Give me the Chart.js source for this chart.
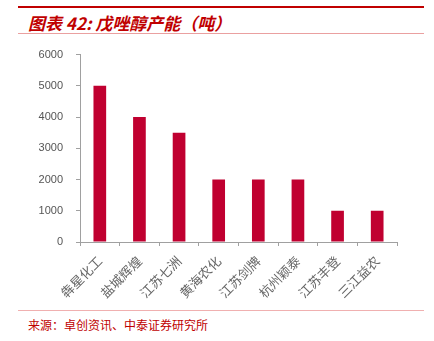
<!DOCTYPE html>
<html>
<head>
<meta charset="utf-8">
<script src="https://cdn.jsdelivr.net/npm/chart.js@4"></script>
<style>
  body { margin: 0; background: #fff; width: 434px; height: 341px; position: relative; overflow: hidden; }
  .topline { position: absolute; left: 18px; top: 6px; width: 406px; height: 2px; background: #c00000; }
  .title { position: absolute; left: 28px; top: 10px; font: italic bold 17px "Noto Sans CJK SC", sans-serif; color: #c00000; }
  .subline { position: absolute; left: 18px; top: 33px; width: 406px; height: 1px; background: #eaa0a0; }
  .botline { position: absolute; left: 18px; top: 310px; width: 406px; height: 1px; background: #f0b0b0; }
  .source { position: absolute; left: 28px; top: 316px; font: 12px "Noto Sans CJK SC", sans-serif; color: #c00000; }
  #wrap { position: absolute; left: 0; top: 35px; width: 434px; height: 275px; }
</style>
</head>
<body>
<div class="topline"></div>
<div class="title">图表 42: 戊唑醇产能（吨）</div>
<div class="subline"></div>
<div id="wrap"><canvas id="myChart"></canvas></div>
<div class="botline"></div>
<div class="source">来源：卓创资讯、中泰证券研究所</div>
<script>
const companies = ['犇星化工', '盐城辉煌', '江苏七洲', '黄海农化', '江苏剑牌', '杭州颖泰', '江苏丰登', '三江益农']
const capacity = [5000, 4000, 3500, 2000, 2000, 2000, 1000, 1000]
const yTicks = [0, 1000, 2000, 3000, 4000, 5000, 6000]

const ctx = document.getElementById('myChart')

new Chart(ctx, {
  type: 'bar',
  data: {
    labels: companies,
    datasets: [{
      data: capacity,
      backgroundColor: '#c00030',
      barPercentage: 0.64,
      categoryPercentage: 0.5
    }]
  },
  options: {
    responsive: true,
    maintainAspectRatio: false,
    animation: false,
    layout: { padding: { top: 9, right: 37, left: 0, bottom: 0 } },
    plugins: { legend: { display: false }, tooltip: { enabled: false } },
    scales: {
      x: {
        grid: { display: true, drawOnChartArea: false, drawTicks: true, tickLength: 4, color: '#a0a0a0', offset: true },
        border: { display: true, color: '#a0a0a0', width: 1 },
        ticks: {
          minRotation: 45, maxRotation: 45,
          color: '#666', padding: 7,
          font: { family: '"Noto Sans CJK SC"', size: 13 }
        },
        afterFit: function(scale) { scale.height = 68 }
      },
      y: {
        min: 0, max: 6000,
        afterBuildTicks: function(scale) { scale.ticks = yTicks.map(v => ({ value: v })) },
        grid: { display: true, drawOnChartArea: false, drawTicks: true, tickLength: 4, color: '#a0a0a0' },
        border: { display: true, color: '#a0a0a0', width: 1 },
        ticks: {
          color: '#555', padding: 13,
          font: { family: 'Liberation Sans', size: 11 },
          callback: function(v) { return String(v) }
        },
        afterFit: function(scale) { scale.width = 80 }
      }
    }
  }
})
</script>
</body>
</html>
